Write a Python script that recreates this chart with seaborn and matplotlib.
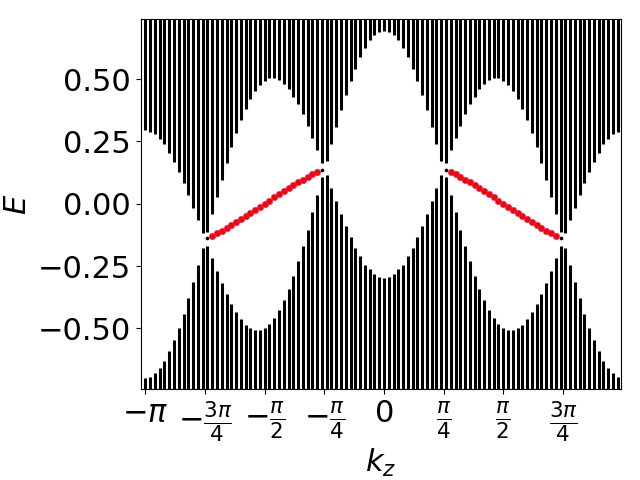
import numpy as np
import pandas as pd
import matplotlib
matplotlib.use('Agg')
import matplotlib.pyplot as plt
import seaborn as sns

# k_z grid, 100 points from -pi (pi itself left out)
kz = np.linspace(-np.pi, np.pi, 100, endpoint=False)

# bottom edge of the upper bulk band at each k
upper_edge = [0.295, 0.289, 0.279, 0.261, 0.239, 0.205, 0.169, 0.129, 0.084, 0.034,
              -0.016, -0.067, -0.118, -0.112, -0.043, 0.027, 0.096, 0.165, 0.228, 0.283,
              0.335, 0.382, 0.420, 0.452, 0.475, 0.493, 0.503, 0.503, 0.496, 0.480,
              0.459, 0.430, 0.400, 0.359, 0.314, 0.265, 0.215, 0.165, 0.170, 0.241,
              0.308, 0.375, 0.437, 0.493, 0.543, 0.590, 0.627, 0.657, 0.677, 0.690,
              0.694, 0.690, 0.677, 0.657, 0.627, 0.590, 0.543, 0.493, 0.437, 0.375,
              0.308, 0.241, 0.170, 0.165, 0.215, 0.265, 0.314, 0.359, 0.400, 0.430,
              0.459, 0.480, 0.496, 0.503, 0.503, 0.493, 0.475, 0.452, 0.420, 0.382,
              0.335, 0.283, 0.228, 0.165, 0.096, 0.027, -0.043, -0.112, -0.118, -0.067,
              -0.016, 0.034, 0.084, 0.129, 0.169, 0.205, 0.239, 0.261, 0.279, 0.289]

# top edge of the lower bulk band
lower_edge = [-0.699, -0.695, -0.679, -0.659, -0.632, -0.592, -0.547, -0.500, -0.443, -0.379,
              -0.313, -0.246, -0.177, -0.168, -0.219, -0.270, -0.319, -0.364, -0.402, -0.435,
              -0.462, -0.486, -0.498, -0.506, -0.508, -0.500, -0.482, -0.458, -0.426, -0.386,
              -0.342, -0.291, -0.230, -0.170, -0.106, -0.033, 0.035, 0.107, 0.114, 0.062,
              0.011, -0.043, -0.090, -0.134, -0.179, -0.211, -0.244, -0.264, -0.284, -0.295,
              -0.297, -0.295, -0.284, -0.264, -0.244, -0.211, -0.179, -0.134, -0.090, -0.043,
              0.011, 0.062, 0.114, 0.107, 0.035, -0.033, -0.106, -0.170, -0.230, -0.291,
              -0.342, -0.386, -0.426, -0.458, -0.482, -0.500, -0.508, -0.506, -0.498, -0.486,
              -0.462, -0.435, -0.402, -0.364, -0.319, -0.270, -0.219, -0.168, -0.177, -0.246,
              -0.313, -0.379, -0.443, -0.500, -0.547, -0.592, -0.632, -0.659, -0.679, -0.695]

# in-gap black points at the band touchings
gap_idx = [13, 37, 63, 87]
gap_E = [-0.139, 0.137, 0.137, -0.139]

# surface (Fermi arc) states, red
surf_idx = list(range(14, 37)) + list(range(64, 87))
surf_E = [-0.130, -0.119, -0.108, -0.097, -0.086, -0.075, -0.063, -0.051, -0.039, -0.026,
          -0.013, 0.000, 0.013, 0.026, 0.039, 0.051, 0.063, 0.075, 0.086, 0.097,
          0.108, 0.118, 0.128,
          0.128, 0.118, 0.108, 0.097, 0.086, 0.075, 0.063, 0.051, 0.039, 0.026,
          0.013, 0.000, -0.013, -0.026, -0.039, -0.051, -0.063, -0.075, -0.086, -0.097,
          -0.108, -0.119, -0.130]

xtick_pos = [-np.pi, -3*np.pi/4, -np.pi/2, -np.pi/4, 0, np.pi/4, np.pi/2, 3*np.pi/4]
xtick_lab = [r'$-\pi$', r'$-\frac{3\pi}{4}$', r'$-\frac{\pi}{2}$', r'$-\frac{\pi}{4}$',
             r'$0$', r'$\frac{\pi}{4}$', r'$\frac{\pi}{2}$', r'$\frac{3\pi}{4}$']

surf = pd.DataFrame({'kz': kz[surf_idx], 'E': surf_E})
gap = pd.DataFrame({'kz': kz[gap_idx], 'E': gap_E})

fig, ax = plt.subplots(figsize=(6.4, 4.8), dpi=100)

# bulk bands: dense eigenvalues merge into vertical bars
ax.vlines(kz, upper_edge, 1.0, color='k', lw=2.2)
ax.vlines(kz, -1.0, lower_edge, color='k', lw=2.2)

sns.scatterplot(data=gap, x='kz', y='E', color='k', s=7, linewidth=0, ax=ax)
sns.scatterplot(data=surf, x='kz', y='E', color='red', s=22,
                edgecolor='#c03a9a', linewidth=0.35, ax=ax, zorder=3)

ax.set_xlim(-3.202, 3.127)
ax.set_ylim(-0.745, 0.741)
ax.set_xticks(xtick_pos)
ax.set_xticklabels(xtick_lab)
ax.set_yticks([-0.5, -0.25, 0, 0.25, 0.5])
ax.tick_params(labelsize=22)
ax.set_xlabel(r'$k_z$', fontsize=22, labelpad=2)
ax.set_ylabel(r'$E$', fontsize=22)

fig.subplots_adjust(left=0.22, right=0.971, bottom=0.189, top=0.96)
fig.savefig('out.png', dpi=100)
